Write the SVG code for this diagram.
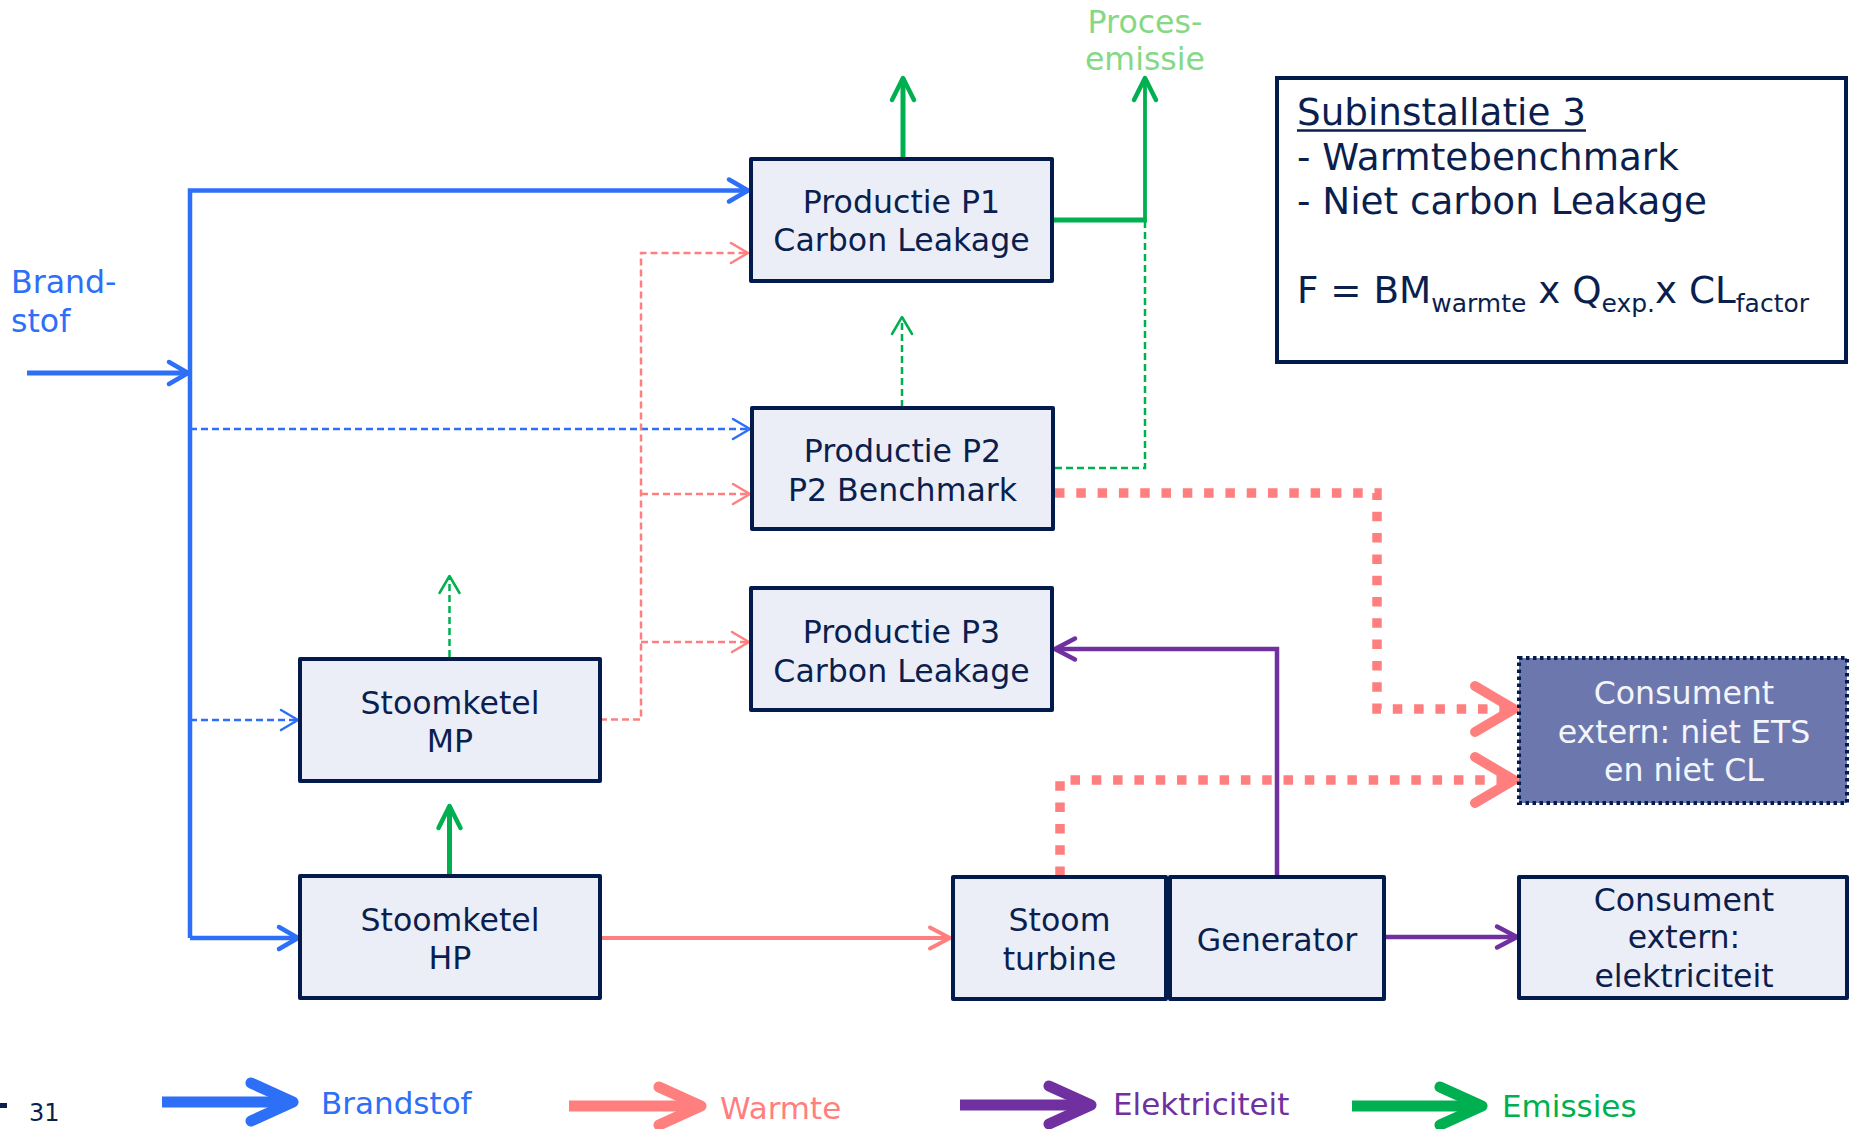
<svg xmlns="http://www.w3.org/2000/svg" width="1849" height="1129" viewBox="0 0 1849 1129">
<style>
  .box { fill:#eceef7; stroke:#021a4c; stroke-width:4; stroke-linejoin:round; }
  .ext { fill:#6c78ad; stroke:#021a4c; stroke-width:4; stroke-dasharray:3.5 3.5; }
  .note { fill:#ffffff; stroke:#021a4c; stroke-width:4; }
  text { font-family:"DejaVu Sans", Verdana, sans-serif; }
  .t { font-size:31.6px; fill:#0b1f4f; text-anchor:middle; }
  .tw { font-size:31.6px; fill:#f4f5fb; text-anchor:middle; }
  .n { font-size:37.3px; fill:#0b1f4f; }
  .c { fill:none; }
  .fuel { stroke:#2d6ff7; stroke-width:4.5; }
  .fuel-in { stroke:#2d6ff7; stroke-width:5; }
  .fuel-d { stroke:#2d6ff7; stroke-width:2.5; stroke-dasharray:7 4; }
  .heat { stroke:#ff7f7f; stroke-width:4; }
  .heat-d { stroke:#ff7f7f; stroke-width:2.5; stroke-dasharray:7 4; }
  .heat-x { stroke:#ff7f7f; stroke-width:9.5; stroke-dasharray:9.5 11.8; }
  .elec { stroke:#7030a0; stroke-width:4.5; }
  .em { stroke:#00b050; stroke-width:5; }
  .em-v { stroke:#00b050; stroke-width:3.8; }
  .em-d { stroke:#00b050; stroke-width:2.5; stroke-dasharray:7 4; }
  .leg { stroke-width:11; }
  .mk { fill:none; stroke-linecap:round; stroke-linejoin:round; }
</style>
<defs>
  <marker id="m-fuel" markerUnits="userSpaceOnUse" viewBox="-60 -30 70 60" markerWidth="70" markerHeight="60" refX="0" refY="0" orient="auto">
    <path class="mk" d="M-19,-11 L0,0 L-19,11" stroke="#2d6ff7" stroke-width="4.5"/>
  </marker>
  <marker id="m-fuel-d" markerUnits="userSpaceOnUse" viewBox="-60 -30 70 60" markerWidth="70" markerHeight="60" refX="0" refY="0" orient="auto">
    <path class="mk" d="M-17,-10 L0,0 L-17,10" stroke="#2d6ff7" stroke-width="2.5"/>
  </marker>
  <marker id="m-heat" markerUnits="userSpaceOnUse" viewBox="-60 -30 70 60" markerWidth="70" markerHeight="60" refX="0" refY="0" orient="auto">
    <path class="mk" d="M-20,-10.5 L0,0 L-20,10.5" stroke="#ff7f7f" stroke-width="4"/>
  </marker>
  <marker id="m-heat-d" markerUnits="userSpaceOnUse" viewBox="-60 -30 70 60" markerWidth="70" markerHeight="60" refX="0" refY="0" orient="auto">
    <path class="mk" d="M-17,-10 L0,0 L-17,10" stroke="#ff7f7f" stroke-width="2.5"/>
  </marker>
  <marker id="m-heat-x" markerUnits="userSpaceOnUse" viewBox="-60 -30 70 60" markerWidth="70" markerHeight="60" refX="0" refY="0" orient="auto">
    <path class="mk" d="M-39,-23 L0,0 L-39,23" stroke="#ff7f7f" stroke-width="10"/>
  </marker>
  <marker id="m-elec" markerUnits="userSpaceOnUse" viewBox="-60 -30 70 60" markerWidth="70" markerHeight="60" refX="0" refY="0" orient="auto">
    <path class="mk" d="M-20,-10.5 L0,0 L-20,10.5" stroke="#7030a0" stroke-width="4.5"/>
  </marker>
  <marker id="m-em" markerUnits="userSpaceOnUse" viewBox="-60 -30 70 60" markerWidth="70" markerHeight="60" refX="0" refY="0" orient="auto">
    <path class="mk" d="M-22,-11 L0,0 L-22,11" stroke="#00b050" stroke-width="4.5"/>
  </marker>
  <marker id="m-em-d" markerUnits="userSpaceOnUse" viewBox="-60 -30 70 60" markerWidth="70" markerHeight="60" refX="0" refY="0" orient="auto">
    <path class="mk" d="M-17,-10 L0,0 L-17,10" stroke="#00b050" stroke-width="2.5"/>
  </marker>
  <marker id="l-fuel" markerUnits="userSpaceOnUse" viewBox="-60 -30 70 60" markerWidth="70" markerHeight="60" refX="0" refY="0" orient="auto">
    <path class="mk" d="M-42,-19 L0,0 L-42,19" stroke="#2d6ff7" stroke-width="11"/>
  </marker>
  <marker id="l-heat" markerUnits="userSpaceOnUse" viewBox="-60 -30 70 60" markerWidth="70" markerHeight="60" refX="0" refY="0" orient="auto">
    <path class="mk" d="M-42,-19 L0,0 L-42,19" stroke="#ff7f7f" stroke-width="11"/>
  </marker>
  <marker id="l-elec" markerUnits="userSpaceOnUse" viewBox="-60 -30 70 60" markerWidth="70" markerHeight="60" refX="0" refY="0" orient="auto">
    <path class="mk" d="M-42,-19 L0,0 L-42,19" stroke="#7030a0" stroke-width="11"/>
  </marker>
  <marker id="l-em" markerUnits="userSpaceOnUse" viewBox="-60 -30 70 60" markerWidth="70" markerHeight="60" refX="0" refY="0" orient="auto">
    <path class="mk" d="M-42,-19 L0,0 L-42,19" stroke="#00b050" stroke-width="11"/>
  </marker>
</defs>

<g id="connectors" class="c">
  <path class="fuel-in" d="M27,373 H188" marker-end="url(#m-fuel)"/>
  <path class="fuel" d="M190,938 V190.5 H748" marker-end="url(#m-fuel)"/>
  <path class="fuel" d="M190,938 H298" marker-end="url(#m-fuel)"/>
  <path class="fuel-d" d="M190,429 H750" marker-end="url(#m-fuel-d)"/>
  <path class="fuel-d" d="M190,720 H298" marker-end="url(#m-fuel-d)"/>
  <path class="heat-d" d="M600,719.5 H641 V253 H748" marker-end="url(#m-heat-d)"/>
  <path class="heat-d" d="M641,494 H750" marker-end="url(#m-heat-d)"/>
  <path class="heat-d" d="M641,642 H749" marker-end="url(#m-heat-d)"/>
  <path class="heat" d="M600,938 H950" marker-end="url(#m-heat)"/>
  <path class="heat-x" d="M1055,493 H1377 V709 H1514" marker-end="url(#m-heat-x)"/>
  <path class="heat-x" d="M1060,876 V780 H1514" marker-end="url(#m-heat-x)"/>
  <path class="elec" d="M1277,876 V649 H1055" marker-end="url(#m-elec)"/>
  <path class="elec" d="M1385,937 H1517" marker-end="url(#m-elec)"/>
  <path class="em" d="M903,158 V78" marker-end="url(#m-em)"/>
  <path class="em" d="M1053,220 H1147"/>
  <path class="em-v" d="M1145,222 V78" marker-end="url(#m-em)"/>
  <path class="em" d="M449.5,875 V806" marker-end="url(#m-em)"/>
  <path class="em-d" d="M902,407 V317" marker-end="url(#m-em-d)"/>
  <path class="em-d" d="M449.5,657 V576" marker-end="url(#m-em-d)"/>
  <path class="em-d" d="M1055,468 H1145 V222"/>
</g>

<g id="label-brandstof">
  <text x="11" y="293" style="font-size:31.6px;fill:#2d6ff7">Brand-</text>
  <text x="11" y="332" style="font-size:31.6px;fill:#2d6ff7">stof</text>
</g>
<g id="label-procesemissie">
  <text x="1145" y="33" style="font-size:31.6px;fill:#85d985;text-anchor:middle">Proces-</text>
  <text x="1145" y="70" style="font-size:31.6px;fill:#85d985;text-anchor:middle">emissie</text>
</g>

<g id="node-p1">
  <rect class="box" x="751" y="159" width="301" height="122"/>
  <text class="t" x="901.5" y="213">Productie P1</text>
  <text class="t" x="901.5" y="251">Carbon Leakage</text>
</g>
<g id="node-p2">
  <rect class="box" x="752" y="408" width="301" height="121"/>
  <text class="t" x="902.5" y="462">Productie P2</text>
  <text class="t" x="902.5" y="501">P2 Benchmark</text>
</g>
<g id="node-p3">
  <rect class="box" x="751" y="588" width="301" height="122"/>
  <text class="t" x="901.5" y="643">Productie P3</text>
  <text class="t" x="901.5" y="682">Carbon Leakage</text>
</g>
<g id="node-mp">
  <rect class="box" x="300" y="659" width="300" height="122"/>
  <text class="t" x="450" y="714">Stoomketel</text>
  <text class="t" x="450" y="751.5">MP</text>
</g>
<g id="node-hp">
  <rect class="box" x="300" y="876" width="300" height="122"/>
  <text class="t" x="450" y="930.5">Stoomketel</text>
  <text class="t" x="450" y="969">HP</text>
</g>
<g id="node-turbine">
  <rect class="box" x="953" y="877" width="213" height="122"/>
  <text class="t" x="1059.5" y="931">Stoom</text>
  <text class="t" x="1059.5" y="970">turbine</text>
</g>
<g id="node-generator">
  <rect class="box" x="1170" y="877" width="214" height="122"/>
  <text class="t" x="1277" y="950.5">Generator</text>
</g>
<g id="node-consument-warmte">
  <rect class="ext" x="1519" y="658" width="328" height="145"/>
  <text class="tw" x="1684" y="704">Consument</text>
  <text class="tw" x="1684" y="743">extern: niet ETS</text>
  <text class="tw" x="1684" y="781">en niet CL</text>
</g>
<g id="node-consument-elek">
  <rect class="box" x="1519" y="877" width="328" height="121"/>
  <text class="t" x="1684" y="911">Consument</text>
  <text class="t" x="1684" y="948">extern:</text>
  <text class="t" x="1684" y="987">elektriciteit</text>
</g>

<g id="subinstallatie">
  <rect class="note" x="1277" y="78" width="569" height="284"/>
  <text class="n" x="1297" y="125">Subinstallatie 3</text>
  <line x1="1297" y1="130.5" x2="1586" y2="130.5" stroke="#0b1f4f" stroke-width="2.5"/>
  <text class="n" x="1297" y="170">- Warmtebenchmark</text>
  <text class="n" x="1297" y="214">- Niet carbon Leakage</text>
  <text class="n" x="1297" y="303">F = BM<tspan style="font-size:25px" dy="9">warmte</tspan><tspan dy="-9"> x Q</tspan><tspan style="font-size:25px" dy="9">exp.</tspan><tspan dy="-9">x CL</tspan><tspan style="font-size:25px" dy="9">factor</tspan></text>
</g>

<g id="legend">
  <path class="c leg" d="M162,1102 H293" stroke="#2d6ff7" marker-end="url(#l-fuel)"/>
  <text x="321" y="1114" style="font-size:31px;fill:#2d6ff7">Brandstof</text>
  <path class="c leg" d="M569,1106 H701" stroke="#ff7f7f" marker-end="url(#l-heat)"/>
  <text x="720" y="1119" style="font-size:31px;fill:#ff7f7f">Warmte</text>
  <path class="c leg" d="M960,1105 H1091" stroke="#7030a0" marker-end="url(#l-elec)"/>
  <text x="1113" y="1115" style="font-size:31px;fill:#7030a0">Elektriciteit</text>
  <path class="c leg" d="M1352,1106 H1482" stroke="#00b050" marker-end="url(#l-em)"/>
  <text x="1502" y="1117" style="font-size:31px;fill:#00b050">Emissies</text>
</g>

<g id="page-number">
  <rect x="0" y="1103" width="7" height="5" fill="#0b1f4f"/>
  <text x="29" y="1121" style="font-size:24px;fill:#0b1f4f">31</text>
</g>
</svg>
